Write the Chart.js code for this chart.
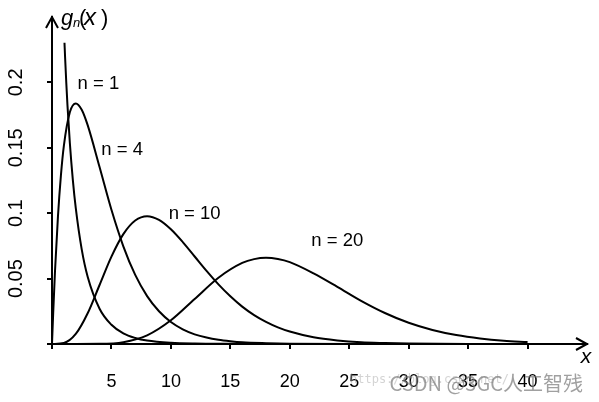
<!DOCTYPE html>
<html>
<head>
<meta charset="utf-8">
<script src="https://cdn.jsdelivr.net/npm/chart.js@4.4.1/dist/chart.umd.min.js"></script>
<style>
  html, body { margin: 0; padding: 0; background: #fff; }
</style>
</head>
<body>
<canvas id="canvas" width="599" height="402"></canvas>
<script>
// chi-square densities g_n(x)
let n1X = [1.05, 1.1, 1.2, 1.3, 1.5, 1.75, 2, 2.5, 3, 4, 5, 6, 7, 8, 10, 12, 15, 20, 30, 40];
let n1Y = [0.2303, 0.2194, 0.1999, 0.1826, 0.1539, 0.1257, 0.1038, 0.0723, 0.0514, 0.0270, 0.0147, 0.0081, 0.0046, 0.0026, 0.0009, 0.0003, 0.0001, 0, 0, 0];

let n4X = [0, 0.1, 0.25, 0.5, 0.75, 1, 1.5, 2, 2.5, 3, 4, 5, 6, 7, 8, 9, 10, 11, 12, 13, 14, 15, 16, 18, 20, 25, 30, 40];
let n4Y = [0, 0.0238, 0.0552, 0.0974, 0.1289, 0.1516, 0.1771, 0.1839, 0.1791, 0.1673, 0.1353, 0.1026, 0.0747, 0.0528, 0.0366, 0.0250, 0.0168, 0.0112, 0.0074, 0.0049, 0.0032, 0.0021, 0.0013, 0.0006, 0.0002, 0, 0, 0];

let n10X = [0, 1, 2, 3, 4, 5, 6, 7, 8, 9, 10, 11, 12, 13, 14, 15, 16, 17, 18, 19, 20, 22, 24, 26, 28, 30, 35, 40];
let n10Y = [0, 0.0008, 0.0077, 0.0235, 0.0451, 0.0668, 0.0840, 0.0944, 0.0977, 0.0949, 0.0877, 0.0779, 0.0669, 0.0559, 0.0456, 0.0365, 0.0286, 0.0221, 0.0169, 0.0127, 0.0095, 0.0051, 0.0027, 0.0013, 0.0007, 0.0003, 0, 0];

let n20X = [0, 2, 4, 6, 8, 10, 12, 14, 16, 17, 18, 19, 20, 22, 24, 26, 28, 30, 32, 34, 36, 38, 40];
let n20Y = [0, 0, 0.0001, 0.0014, 0.0066, 0.0181, 0.0344, 0.0507, 0.0620, 0.0649, 0.0659, 0.0650, 0.0626, 0.0540, 0.0437, 0.0330, 0.0237, 0.0162, 0.0107, 0.0068, 0.0042, 0.0025, 0.0015];

let curveNames = ['n = 1', 'n = 4', 'n = 10', 'n = 20'];
let xTicks = [0, 5, 10, 15, 20, 25, 30, 35, 40];
let yTicks = [0, 0.05, 0.1, 0.15, 0.2];

// where each curve name sits, in data units
let namePos = [[3.9, 0.199], [5.9, 0.1485], [12.0, 0.0996], [24.0, 0.079]];

function pts(xs, ys) {
  return xs.map((x, i) => ({ x: x, y: ys[i] }));
}

let font = '"Liberation Sans", Arial, sans-serif';

let curve = (d) => ({
  data: d,
  borderColor: '#000',
  borderWidth: 2,
  pointRadius: 0,
  fill: false,
  cubicInterpolationMode: 'monotone'
});

// axes arrows, rotated y labels, curve names and watermark
let extras = {
  id: 'extras',
  afterDraw(chart) {
    let ctx = chart.ctx;
    let a = chart.chartArea;
    let xs = chart.scales.x, ys = chart.scales.y;
    let y0 = ys.getPixelForValue(0);
    let x0 = xs.getPixelForValue(0);
    ctx.save();
    ctx.strokeStyle = '#000';
    ctx.lineWidth = 2;
    ctx.beginPath();
    ctx.moveTo(a.right - 11, y0 - 6);
    ctx.lineTo(a.right, y0);
    ctx.lineTo(a.right - 11, y0 + 6);
    ctx.moveTo(x0 - 6, a.top + 11);
    ctx.lineTo(x0, a.top);
    ctx.lineTo(x0 + 6, a.top + 11);
    ctx.stroke();

    // y tick labels, turned to read upwards
    ctx.fillStyle = '#000';
    ctx.font = '20px ' + font;
    ctx.textAlign = 'center';
    ctx.textBaseline = 'middle';
    yTicks.forEach(v => {
      if (v === 0) return;
      ctx.save();
      ctx.translate(16, ys.getPixelForValue(v));
      ctx.rotate(-Math.PI / 2);
      ctx.fillText(String(v), 0, 0);
      ctx.restore();
    });

    ctx.font = '18.5px ' + font;
    curveNames.forEach((t, i) => {
      ctx.fillText(t, xs.getPixelForValue(namePos[i][0]), ys.getPixelForValue(namePos[i][1]));
    });

    // axis names
    ctx.textAlign = 'left';
    ctx.textBaseline = 'alphabetic';
    ctx.font = 'italic 22px ' + font;
    ctx.fillText('g', 61, 25);
    ctx.font = 'italic 13px ' + font;
    ctx.fillText('n', 73, 27);
    ctx.font = '22px ' + font;
    ctx.fillText('(', 79, 25);
    ctx.font = 'italic 24px ' + font;
    ctx.fillText('x', 84, 25);
    ctx.font = '22px ' + font;
    ctx.fillText(')', 101, 25);
    ctx.font = 'italic 21px ' + font;
    ctx.textAlign = 'center';
    ctx.textBaseline = 'middle';
    ctx.fillText('x', 586, 357);

    // watermark
    ctx.font = '12px "DejaVu Sans Mono", monospace';
    ctx.fillStyle = 'rgba(170,170,170,0.5)';
    ctx.textAlign = 'left';
    ctx.fillText('https://blog.csdn.net/', 350, 380);
    ctx.font = '20px "Noto Sans CJK SC", sans-serif';
    ctx.fillStyle = 'rgba(120,120,120,0.7)';
    ctx.textAlign = 'right';
    ctx.fillText('CSDN @3GC人工智残', 583, 383);
    ctx.restore();
  }
};

let options = {
  type: 'line',
  data: {
    datasets: [
      curve(pts(n1X, n1Y)),
      curve(pts(n4X, n4Y)),
      curve(pts(n10X, n10Y)),
      curve(pts(n20X, n20Y))
    ]
  },
  options: {
    responsive: false,
    animation: false,
    layout: { padding: { left: 47, right: 12, top: 17, bottom: 0 } },
    plugins: {
      legend: { display: false },
      tooltip: { enabled: false }
    },
    scales: {
      x: {
        type: 'linear',
        min: 0,
        max: 45,
        afterBuildTicks: s => { s.ticks = xTicks.map(v => ({ value: v })); },
        afterFit: s => { s.height = 58; },
        grid: { drawOnChartArea: false, color: '#000', lineWidth: 2, tickLength: 5 },
        border: { color: '#000', width: 2 },
        ticks: {
          autoSkip: false,
          maxRotation: 0,
          padding: 22,
          color: '#000',
          font: { family: font, size: 18 },
          callback: v => (v === 0 ? '' : String(v))
        }
      },
      y: {
        min: 0,
        max: 0.25,
        afterBuildTicks: s => { s.ticks = yTicks.map(v => ({ value: v })); },
        afterFit: s => { s.width = 5; },
        grid: { drawOnChartArea: false, color: '#000', lineWidth: 2, tickLength: 5 },
        border: { color: '#000', width: 2 },
        ticks: { display: false }
      }
    }
  },
  plugins: [extras]
};

let chart = new Chart(document.getElementById('canvas'), options);
</script>
</body>
</html>
